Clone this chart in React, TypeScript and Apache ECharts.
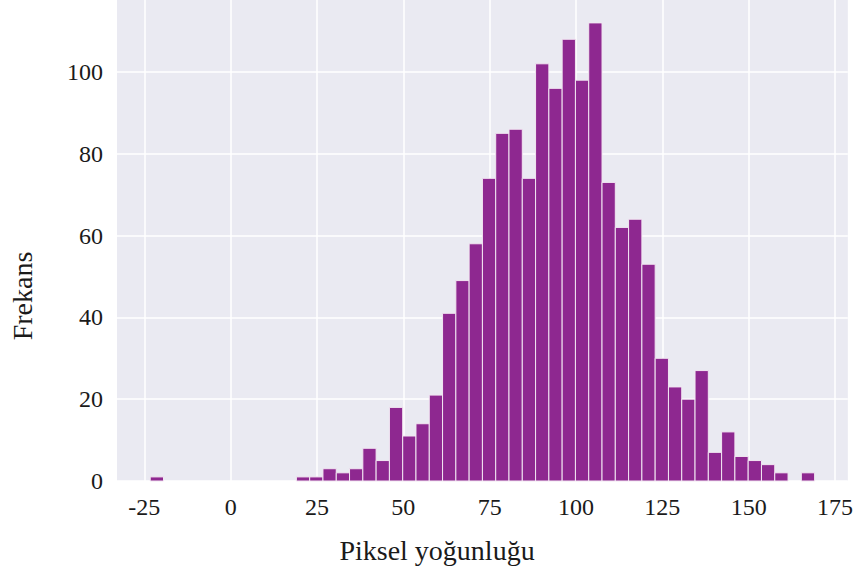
import React, { useEffect, useRef } from "react";
import * as echarts from "echarts";

// Histogram bins (pixel intensity), 50 bins
const binStart = -23.3;
const binWidth = 3.848;
const counts = [
  1, 0, 0, 0, 0, 0, 0, 0, 0, 0,
  0, 1, 1, 3, 2, 3, 8, 5, 18, 11,
  14, 21, 41, 49, 58, 74, 85, 86, 74, 102,
  96, 108, 98, 112, 73, 62, 64, 53, 30, 23,
  20, 27, 7, 12, 6, 5, 4, 2, 0, 2,
];
const xTicks = [-25, 0, 25, 50, 75, 100, 125, 150, 175];
const yTicks = [0, 20, 40, 60, 80, 100];
const xMin = -32.92;
const xMax = 178.72;
const yMax = 117.6;
const xTitle = "Piksel yoğunluğu";
const yTitle = "Frekans";

const FONT = "'Liberation Serif', 'DejaVu Serif', serif";

export default function App() {
  const ref = useRef<HTMLDivElement>(null);
  useEffect(() => {
    if (!ref.current) return;
    const chart = echarts.init(ref.current, null, { renderer: "svg" });
    const data = counts
      .map((c, i) => [binStart + i * binWidth, binStart + (i + 1) * binWidth, c])
      .filter((d) => d[2] > 0);
    chart.setOption({
      animation: false,
      backgroundColor: "#ffffff",
      grid: {
        left: 117,
        right: 0,
        top: 0,
        bottom: 91,
        show: true,
        backgroundColor: "#EAEAF2",
        borderWidth: 0,
      },
      xAxis: {
        type: "value",
        min: xMin,
        max: xMax,
        axisLine: { show: false },
        axisTick: { show: false, customValues: xTicks },
        axisLabel: {
          customValues: xTicks,
          margin: 14,
          fontFamily: FONT,
          fontSize: 24,
          color: "#1a1a1a",
        },
        splitLine: { show: true, lineStyle: { color: "#ffffff", width: 1.5 } },
      },
      yAxis: {
        type: "value",
        min: 0,
        max: yMax,
        axisLine: { show: false },
        axisTick: { show: false, customValues: yTicks },
        axisLabel: {
          customValues: yTicks,
          margin: 14,
          fontFamily: FONT,
          fontSize: 24,
          color: "#1a1a1a",
        },
        splitLine: { show: true, lineStyle: { color: "#ffffff", width: 1.5 } },
      },
      graphic: [
        {
          type: "text",
          x: 22,
          y: 296,
          rotation: Math.PI / 2,
          style: {
            text: yTitle,
            fontFamily: FONT,
            fontSize: 28,
            fill: "#1a1a1a",
            align: "center",
            verticalAlign: "middle",
          },
        },
        {
          type: "text",
          x: 437,
          y: 550,
          style: {
            text: xTitle,
            fontFamily: FONT,
            fontSize: 28,
            fill: "#1a1a1a",
            align: "center",
            verticalAlign: "middle",
          },
        },
      ],
      series: [
        {
          type: "custom",
          encode: { x: [0, 1], y: 2 },
          data,
          renderItem: (params: any, api: any) => {
            const p0 = api.coord([api.value(0), 0]);
            const p1 = api.coord([api.value(1), api.value(2)]);
            return {
              type: "rect",
              shape: {
                x: p0[0],
                y: p1[1],
                width: p1[0] - p0[0],
                height: p0[1] - p1[1],
              },
              style: { fill: "#8E2890", stroke: "#F2E6F2", lineWidth: 1 },
            };
          },
        },
      ],
    });
    return () => chart.dispose();
  }, []);
  return (
    <div
      ref={ref}
      style={{ position: "fixed", left: 0, top: 0, width: 856, height: 572 }}
    />
  );
}
